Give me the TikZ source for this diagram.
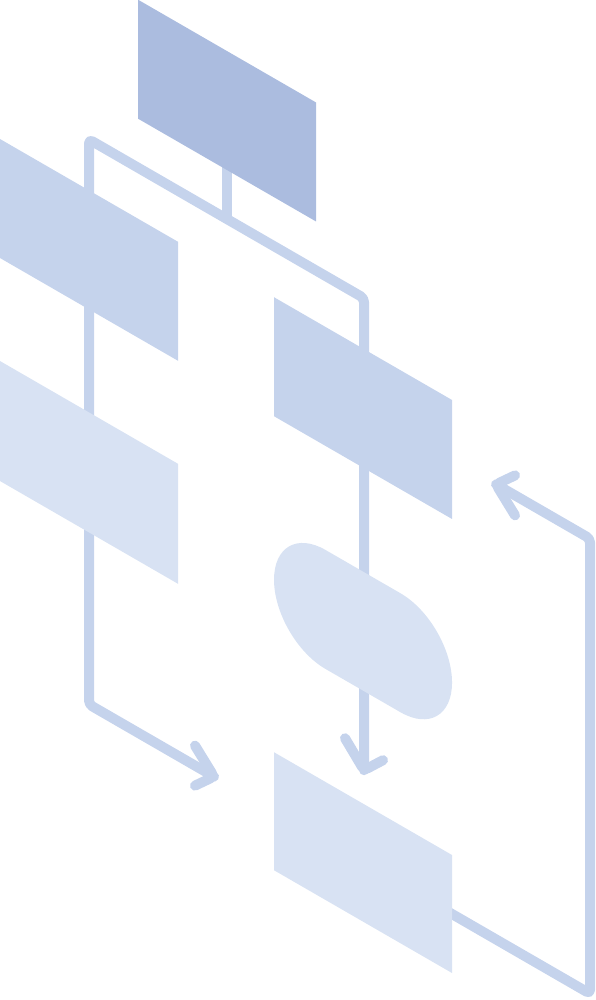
\documentclass[tikz,border=0pt]{standalone}
\definecolor{boxdark}{HTML}{ABBCDF}
\definecolor{boxmid}{HTML}{C5D3EC}
\definecolor{boxlight}{HTML}{D8E2F3}

\begin{document}
\begin{tikzpicture}[x={(0.05cm,-0.028868cm)}, y={(0cm,-0.05cm)},
    flow/.style={draw=boxmid, line width=0.5cm, line cap=round, line join=round, rounded corners=0.2cm},
    panel/.style={fill=#1, draw=none}]

    \useasboundingbox (0cm,0cm) rectangle (29.8cm,-50cm);

    % constants
    \def\xl{89}
    \def\xm{227}
    \def\xr{364}
    \def\xo{590}
    \def\ybus{88}
    \def\yend{653}
    \def\yloop{198}

    % connectors
    \draw [flow] (214,\yend) -- (\xl,\yend) -- (\xl,\ybus) -- (\xr,\ybus) -- (\xr,560);
    \draw [flow] (\xm,30) -- (\xm,\ybus);
    \draw [flow] (400,\yend) -- (\xo,\yend) -- (\xo,\yloop) -- (496,\yloop);

    % arrow heads
    \draw [flow] (214,\yend) ++(-19,-20) -- (214,\yend) -- ++(-19,20);
    \draw [flow] (\xr,560) ++(-19,-21) -- (\xr,560) -- ++(19,-21);
    \draw [flow] (496,\yloop) ++(19,-20) -- (496,\yloop) -- ++(19,20);

    % start
    \draw [panel=boxdark] (138,-80) -- (316,-80) -- (316,39) -- (138,39) -- cycle;

    % left column
    \draw [panel=boxmid] (0,139) -- (178,139) -- (178,258) -- (0,258) -- cycle;
    \draw [panel=boxlight] (0,361) -- (178,361) -- (178,481) -- (0,481) -- cycle;

    % right column
    \draw [panel=boxmid] (274,139) -- (452,139) -- (452,258) -- (274,258) -- cycle;
    \draw [panel=boxlight] (325.5,362) -- (400.5,362)
        .. controls (428.9,362) and (452,388.6) .. (452,421.5)
        .. controls (452,454.4) and (428.9,481) .. (400.5,481) -- (325.5,481)
        .. controls (297.1,481) and (274,454.4) .. (274,421.5)
        .. controls (274,388.6) and (297.1,362) .. (325.5,362) -- cycle;
    \draw [panel=boxlight] (274,594) -- (452,594) -- (452,712) -- (274,712) -- cycle;

\end{tikzpicture}
\end{document}
